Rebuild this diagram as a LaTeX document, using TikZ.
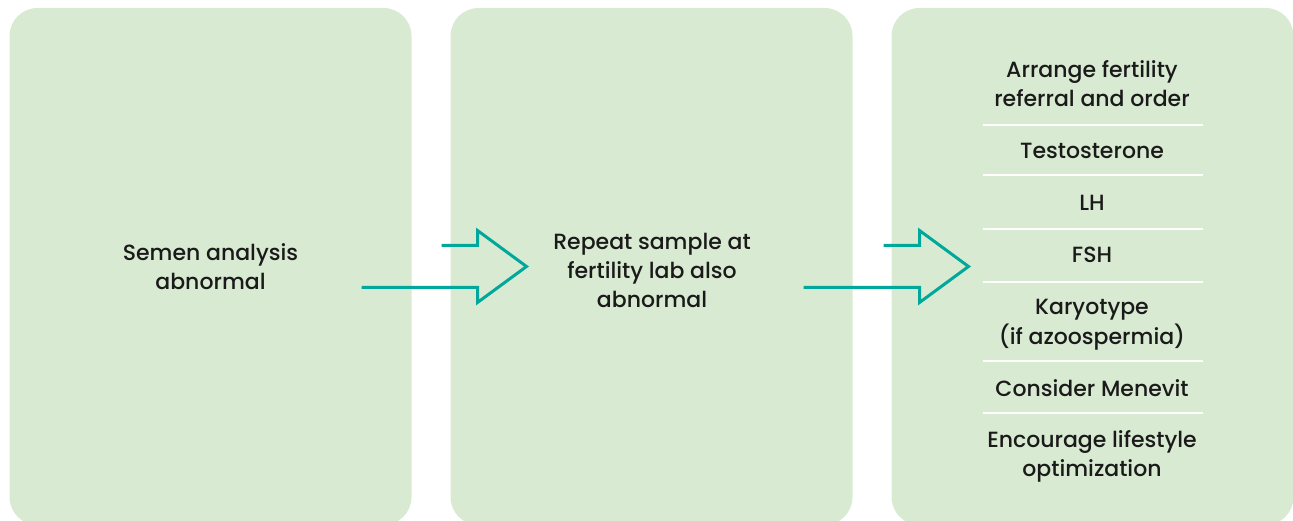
\documentclass[tikz,border=0pt]{standalone}
\usepackage{fontspec}
\setmainfont{Poppins Medium}
\usetikzlibrary{positioning}
\definecolor{panelgreen}{HTML}{D9EAD2}
\definecolor{flowteal}{HTML}{00A89C}
\definecolor{inkgrey}{HTML}{1A1A1A}

\begin{document}
\begin{tikzpicture}[x=1pt, y=-1pt,
        every node/.style={font=\fontsize{22}{29}\selectfont, text=inkgrey},
        panel/.style={rectangle, fill=panelgreen, rounded corners=28pt, minimum width=402pt, minimum height=517pt, inner sep=0pt, outer sep=0pt},
        label/.style={align=center, anchor=base, inner sep=0pt},
        sepline/.style={draw=white, line width=1.5pt},
        flow/.style={draw=flowteal, line width=3pt, line join=miter}
    ]
    \useasboundingbox (0,0) rectangle (1293,521);
    \clip (0,0) rectangle (1293,521);
%
    % Panels
    \node[panel] (semen) at (210.5, 266.5) {};
    \node[panel, right=39pt of semen] (repeat) {};
    \node[panel, right=39pt of repeat] (workup) {};
%
    % Panel texts (base = last line)
    \node[label] (semenTxt) at (210.5, 290) {Semen analysis\\abnormal};
    \node[label] (repeatTxt) at (652, 308) {Repeat sample at\\fertility lab also\\abnormal};
%
    % Work-up list
    \node[label] (referral) at (1092, 107) {Arrange fertility\\referral and order};
    \node[label] (testo) at (1092, 159) {Testosterone};
    \node[label] (lh) at (1092, 211) {LH};
    \node[label] (fsh) at (1092, 263) {FSH};
    \node[label] (karyo) at (1092, 344) {Karyotype\\(if azoospermia)};
    \node[label] (menevit) at (1092, 396) {Consider Menevit};
    \node[label] (lifestyle) at (1092, 476) {Encourage lifestyle\\optimization};
%
    % Separators
    \foreach \y in {125, 175, 229, 282, 361, 413} {
        \draw[sepline] (983, \y) -- (1203, \y);
    }
%
    % Hollow arrows between panels
    \coordinate[right=76pt of repeat.west] (tipA);
    \coordinate[right=77pt of workup.west] (tipB);
    \foreach \t in {tipA, tipB} {
        \draw[flow] (\t) ++(-165, 21) -- ++(116, 0) -- ++(0, 15) -- (\t)
            -- ++(-49, -36) -- ++(0, 15) -- ++(-36, 0);
    }
%
\end{tikzpicture}
\end{document}
